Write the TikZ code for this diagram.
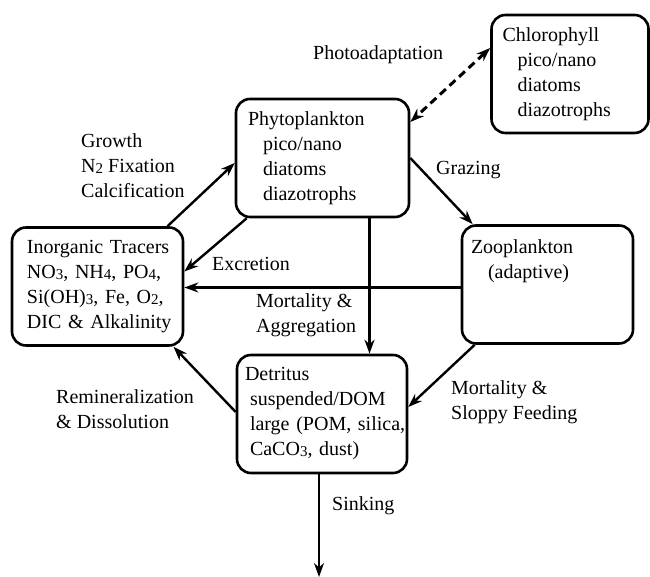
\documentclass[tikz,border=0pt]{standalone}
\usepackage{fontspec}
\setmainfont{Liberation Serif}
\usetikzlibrary{arrows.meta,positioning}
\newcommand{\sm}[1]{\raisebox{-0.8pt}{\fontsize{15}{15}\selectfont #1}}

\begin{document}
\begin{tikzpicture}[x=1pt, y=1pt, >={Stealth[length=14pt,width=10pt]},
    every node/.style={font=\fontsize{20}{25}\selectfont},
    box/.style={draw, line width=2.6pt, rounded corners=14pt, align=left,
        inner xsep=0pt, inner ysep=0pt, minimum height=118pt},
    flow/.style={->, line width=2.4pt},
    lbl/.style={align=left, anchor=west, inner sep=0pt}]

    \useasboundingbox (0,0) rectangle (650,577);

    % draw nodes
        % chlorophyll
        \node [box, text width=157pt] (chl) at (570,503)
            {\hspace*{11pt}Chlorophyll\\\hspace*{26pt}pico/nano\\
             \hspace*{26pt}diatoms\\\hspace*{26pt}diazotrophs};

        % phytoplankton
        \node [box, text width=173pt] (phyto) at (322.5,419)
            {\hspace*{12pt}Phytoplankton\\\hspace*{27pt}pico/nano\\
             \hspace*{27pt}diatoms\\\hspace*{27pt}diazotrophs};

        % inorganic tracers
        \node [box, text width=171pt] (inorg) at (97.5,290.5)
            {\hspace*{15pt}Inorganic Tracers\\\hspace*{15pt}NO\sm{3}, NH\sm{4}, PO\sm{4},\\
             \hspace*{15pt}Si(OH)\sm{3}, Fe, O\sm{2},\\\hspace*{15pt}DIC \& Alkalinity};

        % zooplankton
        \node [box, text width=171pt] (zoo) at (547.5,292.5)
            {\hspace*{9pt}Zooplankton\\\hspace*{26pt}(adaptive)\\\mbox{}\\\mbox{}};

        % detritus
        \node [box, text width=170pt] (detr) at (322,163)
            {\hspace*{8pt}Detritus\\\hspace*{13pt}suspended/DOM\\
             \hspace*{13pt}large (POM, silica,\\\hspace*{13pt}CaCO\sm{3}, dust)};

    % fluxes
        % growth
        \draw [flow] ([xshift=70pt]inorg.north) -- ([yshift=-5pt]phyto.west);
        % excretion
        \draw [flow] ([xshift=12pt]phyto.south west) -- ([yshift=15pt]inorg.east);
        % grazing
        \draw [flow] (phyto.east) -- ([xshift=12pt]zoo.north west);
        % zooplankton to inorganic
        \draw [flow] ([yshift=-3pt]zoo.west) -- ([yshift=-3pt]zoo.west -| inorg.east);
        % mortality & aggregation
        \draw [flow] ([xshift=47pt]phyto.south) -- ([xshift=47pt]phyto.south |- detr.north);
        % remineralization
        \draw [flow] ([yshift=2pt]detr.west) -- ([xshift=76pt]inorg.south);
        % sloppy feeding
        \draw [flow] ([xshift=14pt]zoo.south west) -- ([yshift=7pt]detr.east);
        % sinking
        \coordinate (deep) at ([xshift=-3pt]detr.south |- 0,0);
        \draw [flow] ([xshift=-3pt]detr.south) -- (deep);
        % photoadaptation
        \draw [<->, line width=3pt, dash pattern=on 8pt off 5pt]
            ([yshift=26pt]chl.west) -- ([yshift=36pt]phyto.east);

    % labels
        \node [lbl] (photo) at (313,522) {Photoadaptation};
        \node [lbl] (growth) at (81,411) {Growth\\N\sm{2} Fixation\\Calcification};
        \node [lbl] (graz) at (436,407) {Grazing};
        \node [lbl] (excr) at (212,313) {Excretion};
        \node [lbl] (mortagg) at (256,261.5) {Mortality \&\\Aggregation};
        \node [lbl] (remin) at (56,167.5) {Remineralization\\\& Dissolution};
        \node [lbl] (mortsf) at (451,174.5) {Mortality \&\\Sloppy Feeding};
        \node [lbl] (sink) at (332,71) {Sinking};

\end{tikzpicture}
\end{document}
